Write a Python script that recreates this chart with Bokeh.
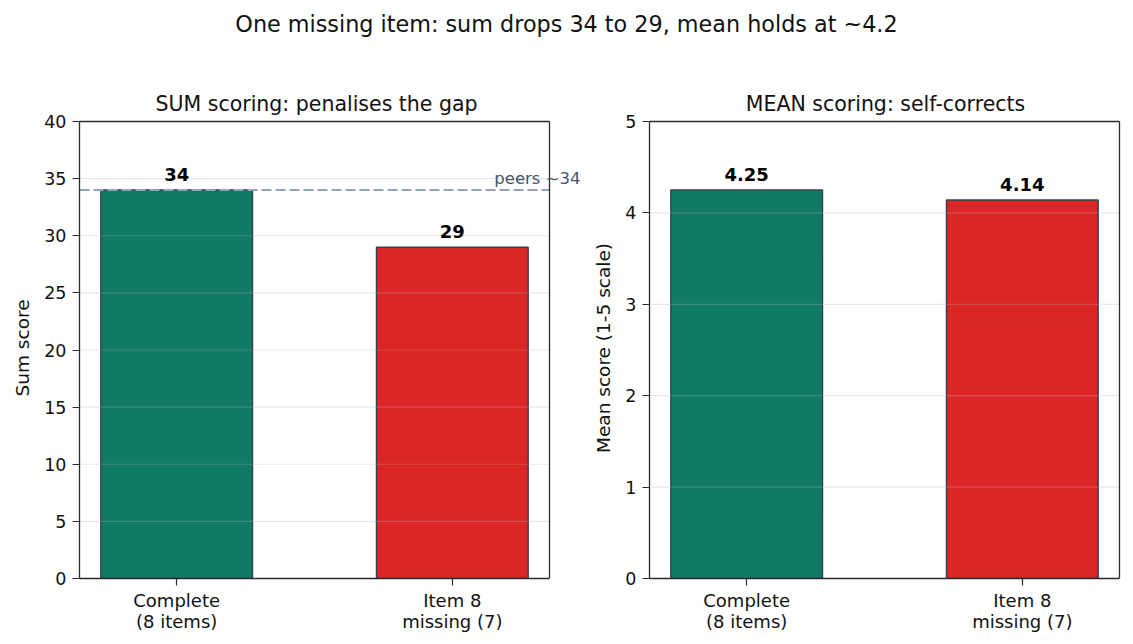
from bokeh.plotting import figure
from bokeh.models import ColumnDataSource, Range1d, FixedTicker, LabelSet, Div
from bokeh.layouts import column, row
from bokeh.core.properties import value
from bokeh.embed import file_html
from bokeh.resources import INLINE

# ---- data -----------------------------------------------------------------
conditions = ["Complete\n(8 items)", "Item 8\nmissing (7)"]
sum_scores = [34, 29]
mean_scores = [4.25, 4.14]
peer_sum = 34
bar_colors = ["#117a65", "#dc2626"]
sum_ticks = [0, 5, 10, 15, 20, 25, 30, 35, 40]
mean_ticks = [0, 1, 2, 3, 4, 5]

suptitle = "One missing item: sum drops 34 to 29, mean holds at ~4.2"
sum_title = "SUM scoring: penalises the gap"
mean_title = "MEAN scoring: self-corrects"

# ---- styling ----------------------------------------------------------------
FONT = "DejaVu Sans"
TEXT = "#111111"
SPINE = "#2b2b2b"
BAR_W = 0.55
PAD = 0.3525           # horizontal margin around the bars (data units)
HEADER_H = 50
PANEL_H = 644 - HEADER_H
BOX_W, BOX_H = 470, 457  # size of the boxed plotting area in pixels
OVER_T = 4               # free pixels above the top spine
positions = list(range(len(conditions)))


def panel(title, values, labels, ylabel, yticks, width, b_left, over_r,
          title_align, title_offset):
    x_lo, x_hi = -PAD, len(values) - 1 + PAD
    y_lo, y_hi = yticks[0], yticks[-1]
    # the frame reaches a little past the boxed area so that the spines and
    # any side note can be drawn inside it
    x_end = x_hi + over_r * (x_hi - x_lo) / BOX_W
    y_end = y_hi + OVER_T * (y_hi - y_lo) / BOX_H

    p = figure(width=width, height=PANEL_H,
               x_range=Range1d(x_lo, x_end), y_range=Range1d(y_lo, y_end),
               output_backend="svg", toolbar_location=None,
               min_border_left=b_left, min_border_right=width - b_left - BOX_W - over_r,
               min_border_top=121 - HEADER_H - OVER_T, min_border_bottom=66,
               title=title, margin=0)
    p.background_fill_color = "white"
    p.border_fill_color = "white"
    p.outline_line_color = None

    p.title.text_font = FONT
    p.title.text_font_size = "20.5px"
    p.title.text_font_style = "normal"
    p.title.text_color = TEXT
    p.title.align = title_align
    p.title.offset = title_offset
    p.title.standoff = 3

    src = ColumnDataSource(dict(x=positions, top=values, color=bar_colors,
                                label=labels))
    p.vbar(x="x", top="top", width=BAR_W, source=src, fill_color="color",
           line_color="#334155", line_width=1.5)

    # horizontal grid, drawn over the bars and limited to the boxed area
    grid_y = [t for t in yticks if y_lo < t < y_hi]
    p.segment(x0=[x_lo] * len(grid_y), x1=[x_hi] * len(grid_y), y0=grid_y,
              y1=grid_y, line_color="#b0b0b0", line_alpha=0.3, line_width=1.2)

    p.xgrid.visible = False
    p.ygrid.visible = False

    for ax in (p.xaxis[0], p.yaxis[0]):
        ax.axis_line_color = SPINE
        ax.axis_line_width = 1.3
        ax.major_tick_line_color = SPINE
        ax.major_tick_line_width = 1.2
        ax.major_tick_out = 7
        ax.major_tick_in = 0
        ax.minor_tick_line_color = None
        ax.major_label_text_font = FONT
        ax.major_label_text_color = TEXT

    p.xaxis.bounds = (x_lo, x_hi)
    p.xaxis.ticker = FixedTicker(ticks=positions)
    p.xaxis.major_label_overrides = {i: c for i, c in zip(positions, conditions)}
    p.xaxis.major_label_text_font_size = "18px"
    p.xaxis.major_label_text_line_height = 1.0
    p.xaxis.major_label_standoff = 4

    p.yaxis.bounds = (y_lo, y_hi)
    p.yaxis.ticker = FixedTicker(ticks=yticks)
    p.yaxis.major_label_text_font_size = "17.5px"
    p.yaxis.major_label_standoff = 6
    p.yaxis.axis_label = ylabel
    p.yaxis.axis_label_text_font = FONT
    p.yaxis.axis_label_text_font_size = "18.5px"
    p.yaxis.axis_label_text_font_style = "normal"
    p.yaxis.axis_label_text_color = TEXT
    p.yaxis.axis_label_standoff = 8

    p.add_layout(LabelSet(x="x", y="top", text="label", source=src,
                          text_align="center", text_baseline="alphabetic",
                          y_offset=9, text_font=value(FONT),
                          text_font_size=value("18px"),
                          text_font_style="bold", text_color="#000000"))
    return p, (x_lo, x_hi, y_lo, y_hi)


def close_box(p, box):
    # top and right spines
    x_lo, x_hi, y_lo, y_hi = box
    p.segment(x0=[x_lo, x_hi], y0=[y_hi, y_lo], x1=[x_hi, x_hi], y1=[y_hi, y_hi],
              line_color=SPINE, line_width=1.3)


LEFT_W = 585
left, left_box = panel(sum_title, sum_scores, [f"{v:d}" for v in sum_scores],
                       "Sum score", sum_ticks, LEFT_W, 79, LEFT_W - 79 - BOX_W,
                       "left", 76)
# peer reference line and its note
left.segment(x0=[left_box[0]], x1=[left_box[1]], y0=[peer_sum], y1=[peer_sum],
             line_color="#94a3b8", line_dash="10 4", line_width=2)
close_box(left, left_box)
peer_src = ColumnDataSource(dict(x=[1.465], y=[peer_sum],
                                 text=[f"peers ~{peer_sum}"]))
left.add_layout(LabelSet(x="x", y="y", text="text", source=peer_src,
                         text_align="right", text_baseline="alphabetic",
                         y_offset=6, text_font=value(FONT),
                         text_font_size=value("16.5px"),
                         text_color="#475569"))

RIGHT_W = 1133 - LEFT_W
right, right_box = panel(mean_title, mean_scores, [f"{v:.2f}" for v in mean_scores],
                         "Mean score (1-5 scale)", mean_ticks, RIGHT_W,
                         649 - LEFT_W, 2, "center", 0)
close_box(right, right_box)

header = Div(text=suptitle, width=1133, height=HEADER_H, margin=0,
             styles={"font-family": FONT, "font-size": "22.3px",
                     "text-align": "center", "color": TEXT,
                     "padding-top": "9px", "box-sizing": "border-box",
                     "width": "1133px", "height": f"{HEADER_H}px",
                     "background-color": "white"})

page = column(header, row(left, right, spacing=0, margin=0), spacing=0, margin=0)

with open("out.html", "w") as f:
    f.write(file_html(page, INLINE, title=suptitle))
